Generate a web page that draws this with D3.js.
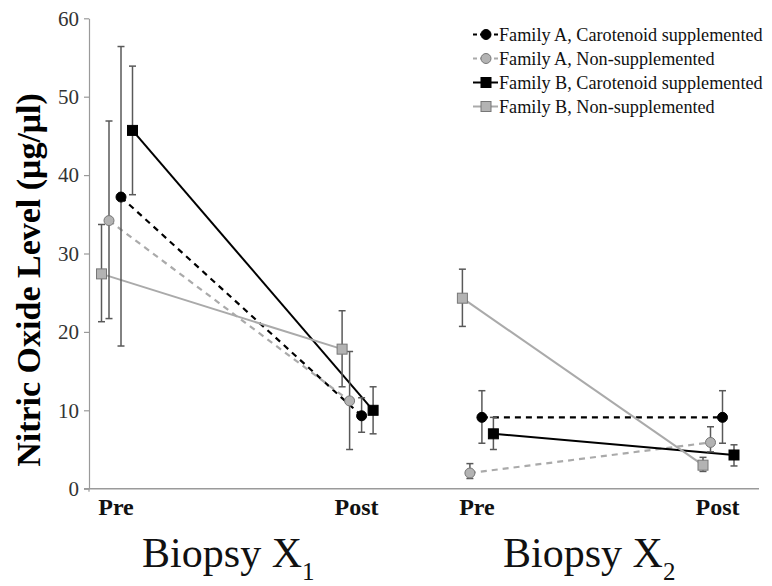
<!DOCTYPE html>
<html>
<head>
<meta charset="utf-8">
<script src="https://cdn.jsdelivr.net/npm/d3@7"></script>
<style>
  html, body { margin: 0; padding: 0; background: #fff; }
</style>
</head>
<body>
<svg id="chart" width="772" height="586"></svg>
<script>
// ---------- data ----------
const biopsies = ["X1", "X2"];
const timepoints = ["Pre", "Post"];
const yTicks = [0, 10, 20, 30, 40, 50, 60];
const seriesNames = [
  "Family A, Carotenoid supplemented",
  "Family A, Non-supplemented",
  "Family B, Carotenoid supplemented",
  "Family B, Non-supplemented"
];
// values ordered: X1 Pre, X1 Post, X2 Pre, X2 Post
const famACarotMean = [37.2, 9.3, 9.1, 9.1];
const famACarotLow  = [18.2, 7.2, 5.8, 5.8];
const famACarotHigh = [56.4, 11.6, 12.5, 12.5];

const famANonMean = [34.2, 11.2, 2.0, 5.9];
const famANonLow  = [21.7, 5.0, 1.3, 4.7];
const famANonHigh = [46.9, 17.5, 3.2, 7.9];

const famBCarotMean = [45.7, 10.0, 7.0, 4.3];
const famBCarotLow  = [37.5, 7.0, 5.0, 2.9];
const famBCarotHigh = [53.9, 13.0, 9.1, 5.6];

const famBNonMean = [27.4, 17.8, 24.3, 3.0];
const famBNonLow  = [21.3, 13.0, 20.7, 2.2];
const famBNonHigh = [33.7, 22.7, 28.0, 4.0];

// ---------- styles ----------
const FONT = "'Liberation Serif', 'Times New Roman', Tinos, 'DejaVu Serif', serif";
const styles = {
  "Family A, Carotenoid supplemented": {line: "#000", dash: "6,5", width: 2.2, shape: "circle", fill: "#000", stroke: "#000", dodge: 5},
  "Family A, Non-supplemented":        {line: "#aaa", dash: "6,5", width: 2.2, shape: "circle", fill: "#b3b3b3", stroke: "#777", dodge: -7},
  "Family B, Carotenoid supplemented": {line: "#000", dash: null, width: 2, shape: "square", fill: "#000", stroke: "#000", dodge: 16.5},
  "Family B, Non-supplemented":        {line: "#aaa", dash: null, width: 2, shape: "square", fill: "#b3b3b3", stroke: "#777", dodge: -14.5}
};

const seriesData = [
  {name: seriesNames[0], mean: famACarotMean, low: famACarotLow, high: famACarotHigh},
  {name: seriesNames[1], mean: famANonMean, low: famANonLow, high: famANonHigh},
  {name: seriesNames[2], mean: famBCarotMean, low: famBCarotLow, high: famBCarotHigh},
  {name: seriesNames[3], mean: famBNonMean, low: famBNonLow, high: famBNonHigh}
];

// ---------- layout ----------
const svg = d3.select("#chart").style("font-family", FONT);
const axisLeftX = 89, axisRightX = 759;
const y = d3.scaleLinear().domain([0, 60]).range([488.7, 18.3]);
const xOuter = d3.scaleBand().domain(biopsies).range([116, 717.5]).paddingInner(1/3).paddingOuter(0);
const xInner = d3.scalePoint().domain(timepoints).range([0, xOuter.bandwidth()]).padding(0);

function idxToBT(i) { return {b: biopsies[Math.floor(i / 2)], t: timepoints[i % 2]}; }
function xPos(i) { const bt = idxToBT(i); return xOuter(bt.b) + xInner(bt.t); }

// ---------- axes ----------
const axisColor = "#9a9a9a";
const yAxis = d3.axisLeft(y).tickValues(yTicks).tickSize(5).tickPadding(5).tickSizeOuter(0);
const gy = svg.append("g").attr("transform", `translate(${axisLeftX},0)`).call(yAxis)
  .attr("font-family", null);
gy.select(".domain").attr("stroke", axisColor).attr("stroke-width", 1.2);
gy.selectAll(".tick line").attr("stroke", axisColor).attr("stroke-width", 1.2);
gy.selectAll(".tick text").style("font-family", FONT).attr("font-size", 21).attr("fill", "#333");
svg.append("line").attr("x1", axisLeftX).attr("x2", axisLeftX).attr("y1", y(0)).attr("y2", y(0) + 3)
  .attr("stroke", axisColor).attr("stroke-width", 1.2);

// x axis line
svg.append("line").attr("x1", axisLeftX - 5).attr("x2", axisRightX).attr("y1", y(0)).attr("y2", y(0))
  .attr("stroke", axisColor).attr("stroke-width", 1.5);

// category labels
biopsies.forEach(b => {
  timepoints.forEach(t => {
    svg.append("text").attr("x", xOuter(b) + xInner(t)).attr("y", 515)
      .attr("text-anchor", "middle").attr("font-weight", "bold").attr("font-size", 24)
      .style("font-family", FONT).attr("fill", "#111").text(t);
  });
});

// biopsy labels
biopsies.forEach(b => {
  const cx = xOuter(b) + xOuter.bandwidth() / 2;
  const t = svg.append("text").attr("x", cx - 8).attr("y", 567).attr("text-anchor", "middle")
    .attr("font-size", 42).style("font-family", FONT).attr("fill", "#111");
  t.append("tspan").text("Biopsy X");
  t.append("tspan").attr("dy", 13).attr("font-size", 25).text(b.slice(1));
});

// y title
svg.append("text").attr("transform", `translate(40,280) rotate(-90)`)
  .attr("text-anchor", "middle").attr("font-weight", "bold").attr("font-size", 34)
  .style("font-family", FONT).attr("fill", "#000").text("Nitric Oxide Level (μg/μl)");

// ---------- series ----------
const plot = svg.append("g");
const lineGen = d3.line().x(d => d.x).y(d => d.y);

seriesData.forEach(s => {
  const st = styles[s.name];
  biopsies.forEach((b, bi) => {
    const pts = [0, 1].map(k => {
      const i = bi * 2 + k;
      return {x: xPos(i) + st.dodge, y: y(s.mean[i])};
    });
    plot.append("path").attr("d", lineGen(pts)).attr("fill", "none")
      .attr("stroke", st.line).attr("stroke-width", st.width)
      .attr("stroke-dasharray", st.dash);
  });
});

seriesData.forEach(s => {
  const st = styles[s.name];
  s.mean.forEach((m, i) => {
    const cx = xPos(i) + st.dodge;
    const g = plot.append("g").attr("stroke", "#595959").attr("stroke-width", 1.5);
    g.append("line").attr("x1", cx).attr("x2", cx).attr("y1", y(s.low[i])).attr("y2", y(s.high[i]));
    [s.low[i], s.high[i]].forEach(v => {
      g.append("line").attr("x1", cx - 3.5).attr("x2", cx + 3.5).attr("y1", y(v)).attr("y2", y(v));
    });
  });
});

function drawMarker(g, st, cx, cy) {
  if (st.shape === "circle") {
    g.append("circle").attr("cx", cx).attr("cy", cy).attr("r", 5)
      .attr("fill", st.fill).attr("stroke", st.stroke).attr("stroke-width", 1);
  } else {
    g.append("rect").attr("x", cx - 5).attr("y", cy - 5).attr("width", 10).attr("height", 10)
      .attr("fill", st.fill).attr("stroke", st.stroke).attr("stroke-width", 1);
  }
}
seriesData.forEach(s => {
  const st = styles[s.name];
  s.mean.forEach((m, i) => drawMarker(plot, st, xPos(i) + st.dodge, y(m)));
});

// ---------- legend ----------
const legend = svg.append("g").attr("transform", "translate(473,34.5)");
seriesNames.forEach((name, i) => {
  const st = styles[name];
  const row = legend.append("g").attr("transform", `translate(0,${i * 24})`);
  row.append("line").attr("x1", 0).attr("x2", 25).attr("y1", 0).attr("y2", 0)
    .attr("stroke", st.line).attr("stroke-width", st.width)
    .attr("stroke-dasharray", st.dash ? "4,3" : null);
  drawMarker(row, st, 13, 0);
  row.append("text").attr("x", 26).attr("y", 6).attr("font-size", 18.2)
    .style("font-family", FONT).attr("fill", "#111").text(name);
});
</script>
</body>
</html>
